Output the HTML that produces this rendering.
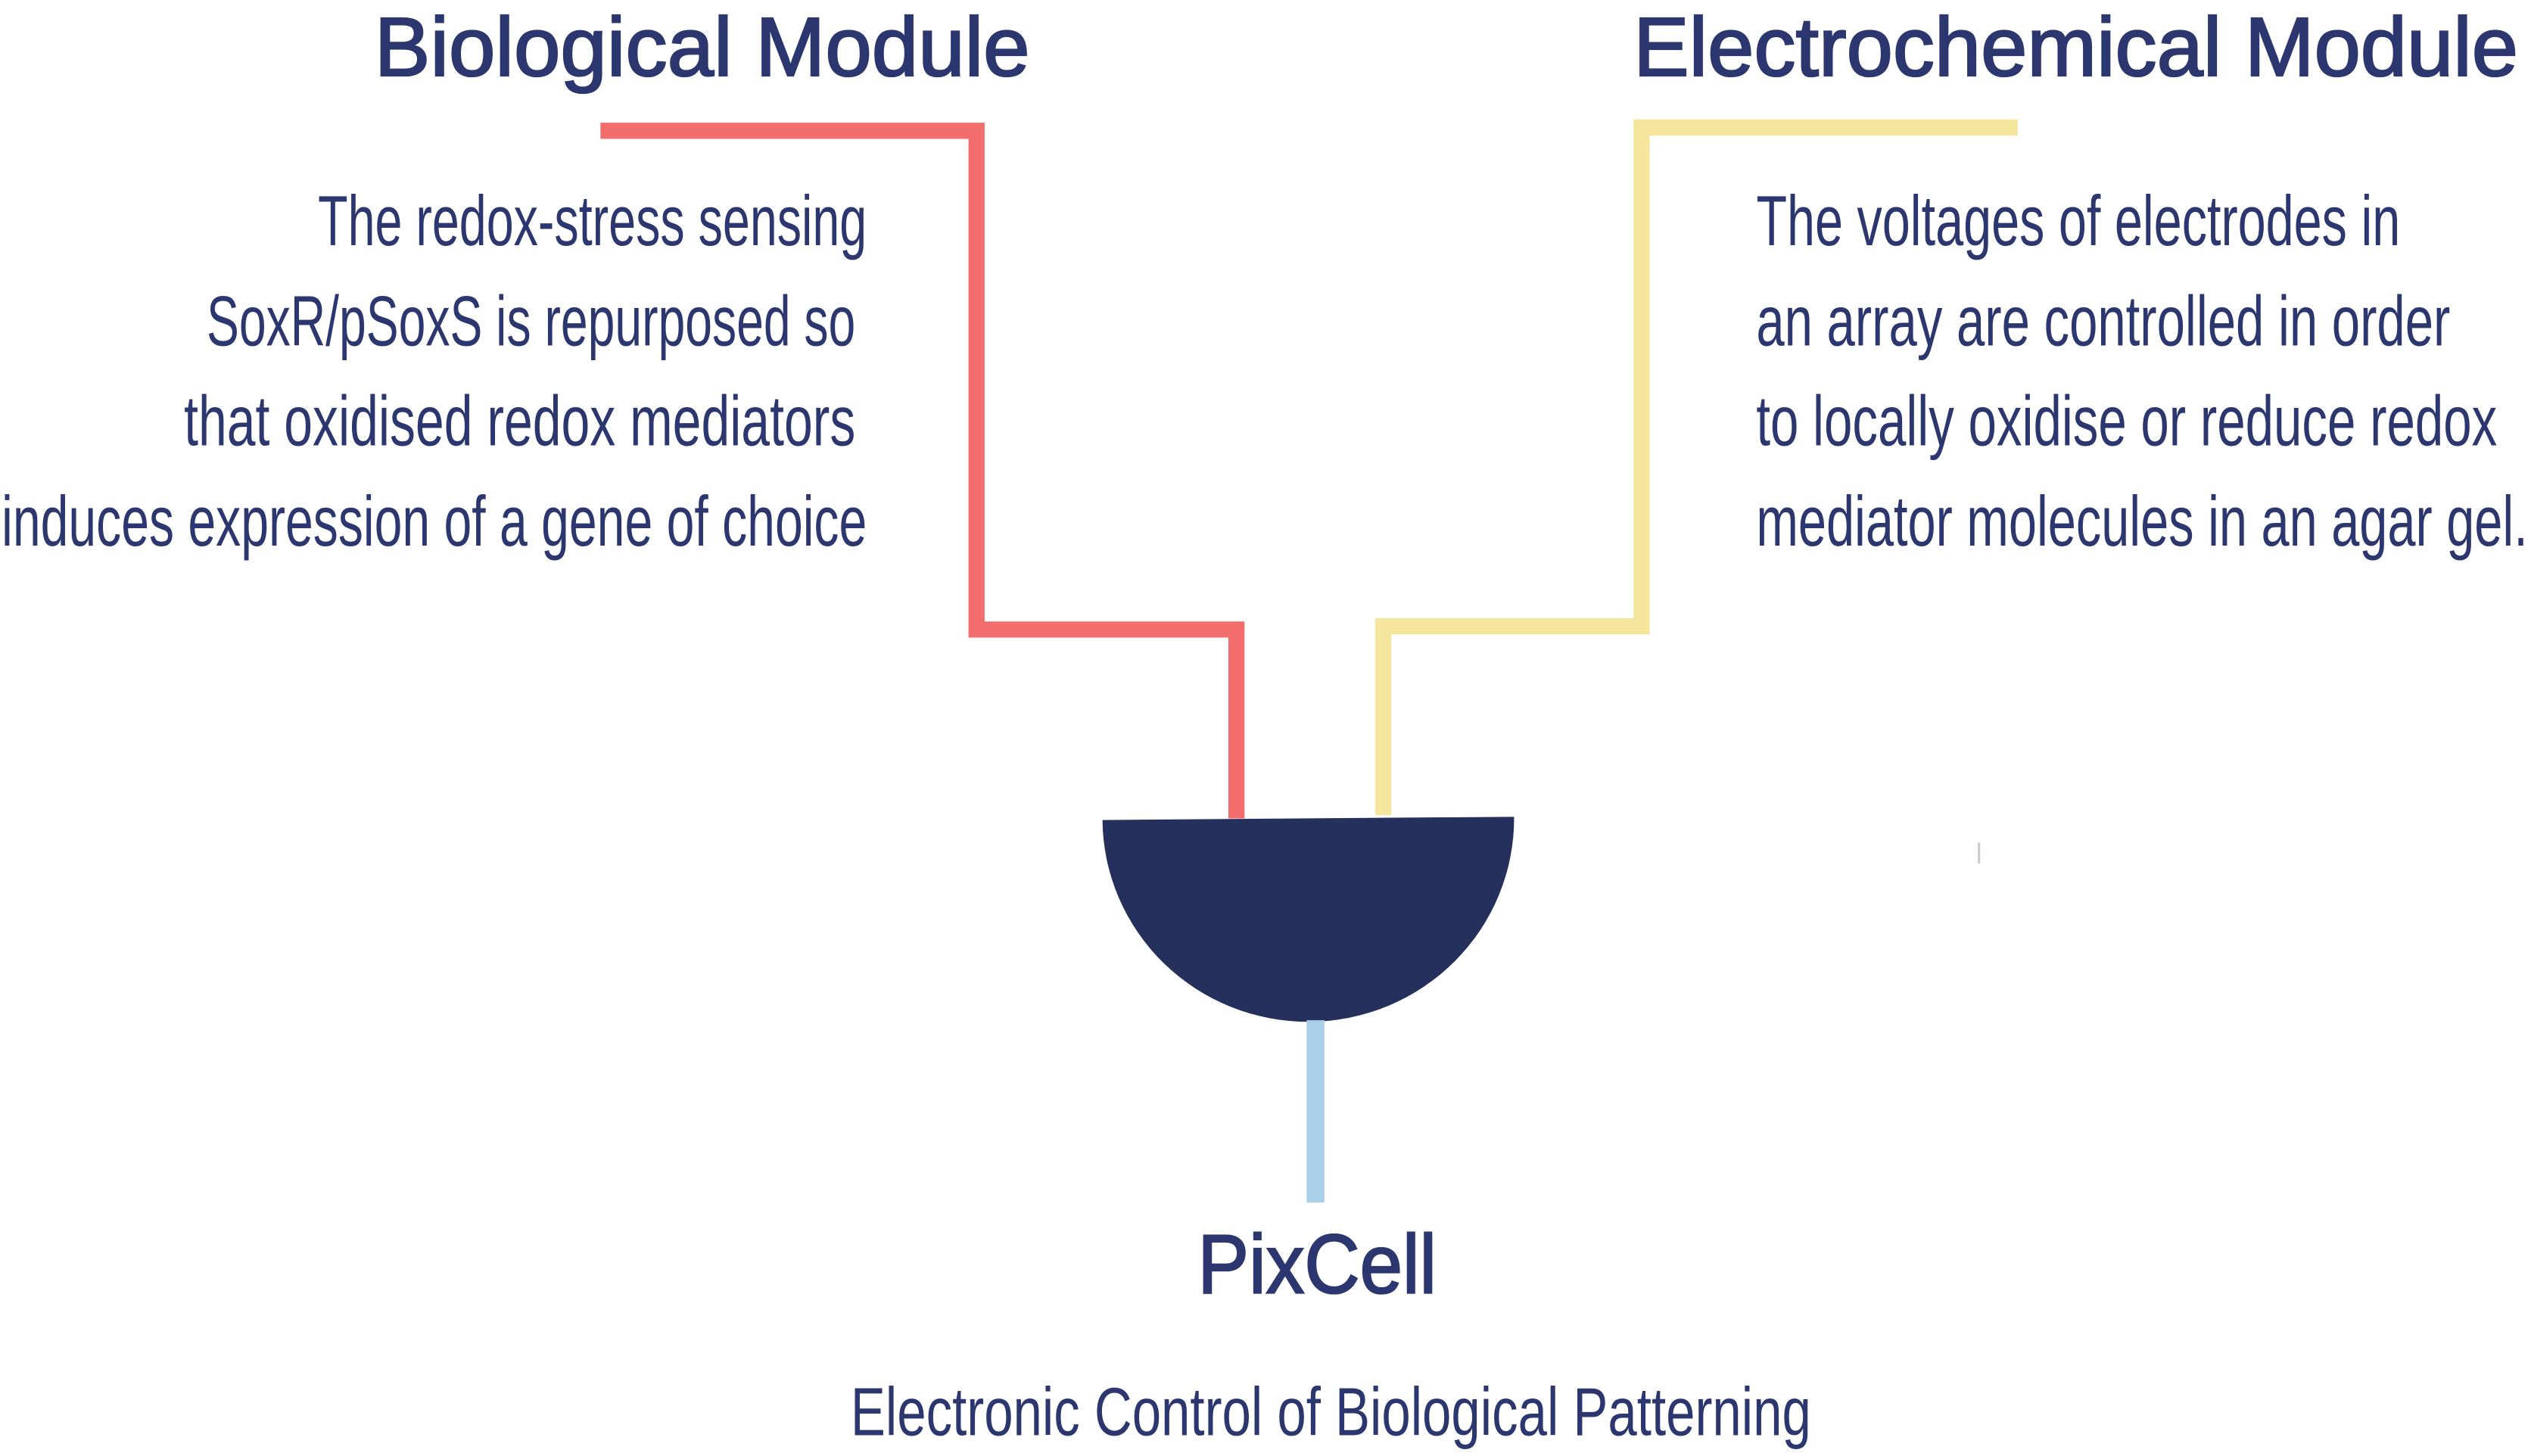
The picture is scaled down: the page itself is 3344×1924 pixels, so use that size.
<!DOCTYPE html>
<html><head><meta charset="utf-8"><style>
html,body{margin:0;padding:0;background:#fff;}
svg{display:block;}
text{font-family:"Liberation Sans",sans-serif;fill:#2c3770;}
.b{stroke:#2c3770;stroke-width:1.1;}
</style></head><body>
<svg width="3344" height="1924" viewBox="0 0 1568 902" preserveAspectRatio="none" xmlns="http://www.w3.org/2000/svg">
<polyline points="372,81 605,81 605,390 766,390 766,507" fill="none" stroke="#f26d6c" stroke-width="10"/>
<polyline points="1250,79 1017,79 1017,388 857,388 857,505" fill="none" stroke="#f6e69b" stroke-width="10"/>
<path d="M683,508 L938,506 A127.5,126 0 0 1 683,508 Z" fill="#25305c"/>
<line x1="815" y1="632" x2="815" y2="745" stroke="#a9d0e8" stroke-width="11"/>
<line x1="1226" y1="522" x2="1226" y2="535" stroke="#ccc" stroke-width="1.5"/>
<text class="b" x="232" y="47" font-size="52" textLength="406" lengthAdjust="spacingAndGlyphs">Biological Module</text>
<text class="b" x="1012" y="47" font-size="52" textLength="548" lengthAdjust="spacingAndGlyphs">Electrochemical Module</text>
<g font-size="44">
<text x="197" y="152" textLength="340" lengthAdjust="spacingAndGlyphs">The redox-stress sensing</text>
<text x="128" y="214" textLength="402" lengthAdjust="spacingAndGlyphs">SoxR/pSoxS is repurposed so</text>
<text x="114" y="276" textLength="416" lengthAdjust="spacingAndGlyphs">that oxidised redox mediators</text>
<text x="1" y="338" textLength="536" lengthAdjust="spacingAndGlyphs">induces expression of a gene of choice</text>
<text x="1088" y="152" textLength="399" lengthAdjust="spacingAndGlyphs">The voltages of electrodes in</text>
<text x="1088" y="214" textLength="430" lengthAdjust="spacingAndGlyphs">an array are controlled in order</text>
<text x="1088" y="276" textLength="459" lengthAdjust="spacingAndGlyphs">to locally oxidise or reduce redox</text>
<text x="1088" y="338" textLength="478" lengthAdjust="spacingAndGlyphs">mediator molecules in an agar gel.</text>
</g>
<text class="b" x="742" y="801" font-size="52" textLength="148" lengthAdjust="spacingAndGlyphs">PixCell</text>
<text x="527" y="889" font-size="42" textLength="595" lengthAdjust="spacingAndGlyphs">Electronic Control of Biological Patterning</text>
</svg>
</body></html>
